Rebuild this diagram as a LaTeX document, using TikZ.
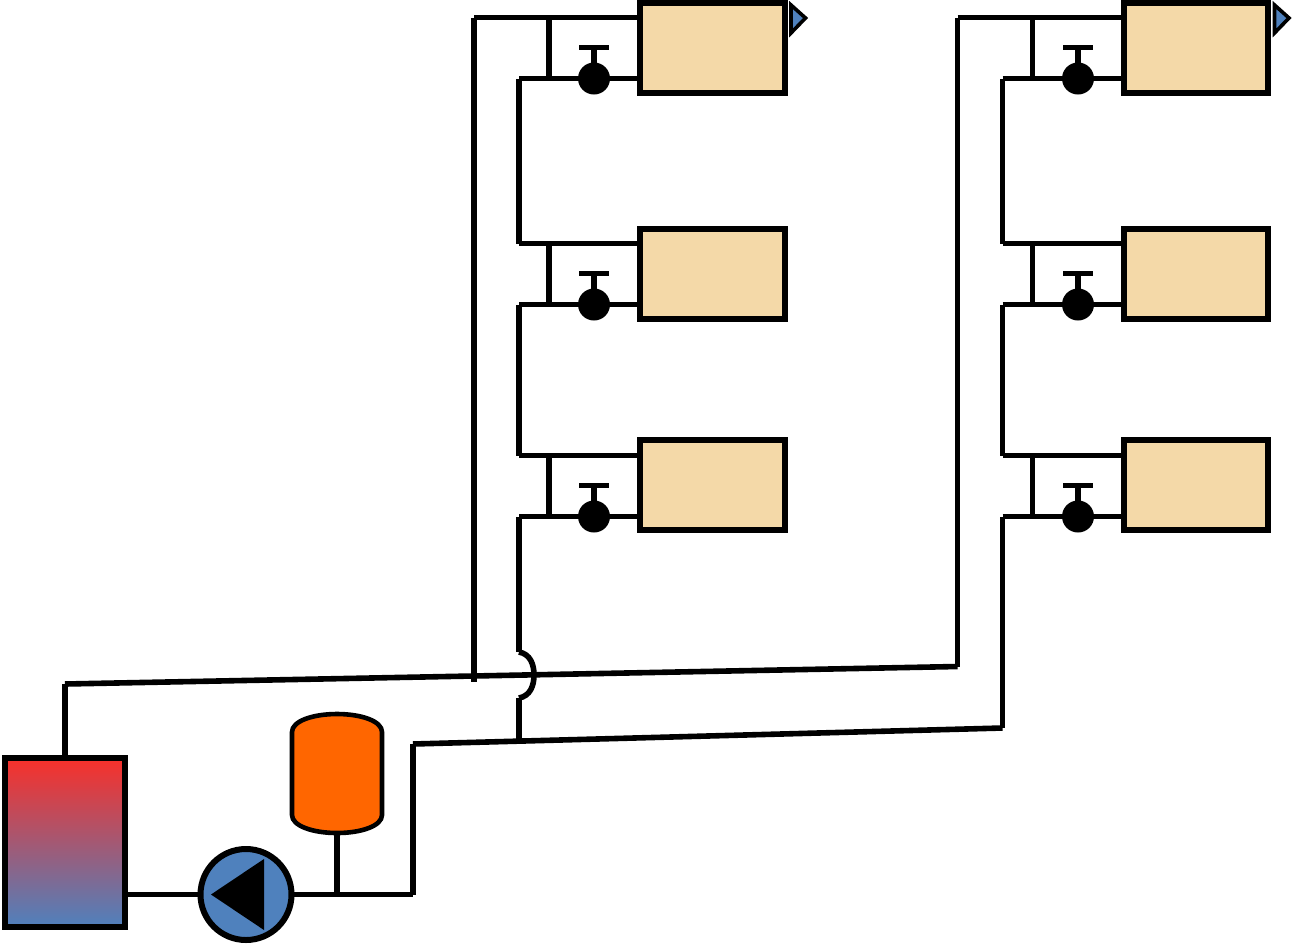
\documentclass[tikz,border=0pt]{standalone}
\usetikzlibrary{calc}
\definecolor{radfill}{HTML}{F4D9A8}
\definecolor{pumpblue}{HTML}{4F81BD}
\definecolor{hotred}{HTML}{F8302A}
\definecolor{vesselorange}{HTML}{FF6600}
\tikzset{
  pipe/.style={line width=5.6pt,line cap=butt,line join=miter},
  radiator/.style={draw,line width=6pt,fill=radfill,minimum width=144.5pt,minimum height=90pt,inner sep=0pt,outer sep=0pt},
  valvebody/.style={circle,fill=black,minimum size=32pt,inner sep=0pt,outer sep=0pt},
  vent/.style={draw,line width=3.6pt,fill=pumpblue,line join=miter},
  boilerbox/.style={draw,line width=6pt,top color=hotred,bottom color=pumpblue,minimum width=120pt,minimum height=169pt,inner sep=0pt,outer sep=0pt},
  pumpbody/.style={draw,circle,line width=6pt,fill=pumpblue,minimum size=91pt,inner sep=0pt,outer sep=0pt},
  vesselbody/.style={draw,line width=4.6pt,fill=vesselorange}
}
\begin{document}
\begin{tikzpicture}[x=1pt,y=-1pt]
\useasboundingbox (0,0) rectangle (1292,943);
\fill[white] (0,0) rectangle (1292,943);

% Risers and mains
\coordinate (flowL) at (474,17.5);
\coordinate (flowLb) at (474,682);
\coordinate (flowR) at (957.5,17.5);
\coordinate (flowRb) at (957.5,666.5);
\coordinate (flowStart) at (65,684);
\coordinate (retStart) at (413,744);
\coordinate (retEnd) at (1002.5,728);
\coordinate (retCorner) at (413,894.5);
\coordinate (vesselFoot) at (337,833);
\coordinate (vesselTee) at (337,894.5);
\coordinate (hopTop) at (519,652);
\coordinate (hopBot) at (519,698);
\coordinate (hopFoot) at (519,740);

% Boiler and pump
\node[boilerbox] (boiler) at (65,842.5) {};
\node[pumpbody] (pump) at (246,894.5) {};
\fill[black] (211,894.5) -- (264,859) -- (264,930) -- cycle;

% Radiator groups: side / radiator x / valve x / tee x / riser x
\foreach \s/\rx/\vx/\tx/\ux in {L/712.5/594/549/519,R/1196/1078/1032.5/1002.5}{
  \foreach \n/\ry/\fy/\by in {1/48/17.5/78.5,2/274/243.5/304.5,3/485/455.5/516.5}{
    \node[radiator] (rad\s\n) at (\rx,\ry) {};
    \node[valvebody] (valve\s\n) at (\vx,\by) {};
    \coordinate (feed\s\n) at (\tx,\fy);
    \coordinate (back\s\n) at (\tx,\by);
    \coordinate (start\s\n) at (\ux,\by);
    \coordinate (inlet\s\n) at (\ux,\fy);
    \draw[pipe] (feed\s\n) -- (back\s\n);
    \draw[pipe] (start\s\n) -- (valve\s\n.west);
    \draw[pipe] (valve\s\n.east) -- (rad\s\n.west |- start\s\n);
    \draw[pipe] (valve\s\n.north) -- ++(0,-15);
    \draw[pipe] ($(valve\s\n.north)+(-15,-15)$) -- ++(30,0);
  }
  \draw[pipe] (inlet\s2) -- (rad\s2.west |- inlet\s2);
  \draw[pipe] (inlet\s3) -- (rad\s3.west |- inlet\s3);
  \draw[pipe] (start\s1) -- (inlet\s2);
  \draw[pipe] (start\s2) -- (inlet\s3);
}

% Flow mains to top radiators
\draw[pipe] (flowL) -- (radL1.west |- flowL);
\draw[pipe] (flowR) -- (radR1.west |- flowR);
\draw[pipe] (flowL) -- (flowLb);
\draw[pipe] (flowR) -- (flowRb);
\draw[pipe] (flowStart) -- (flowRb);
\draw[pipe] (boiler.north -| flowStart) -- (flowStart);

% Return mains
\draw[pipe] (startL3) -- (hopTop);
\draw[pipe] (hopTop) .. controls (530,654) and (534,664) .. (534,675) .. controls (534,686) and (530,696) .. (hopBot);
\draw[pipe] (hopBot) -- (hopFoot);
\draw[pipe] (startR3) -- (retEnd);
\draw[pipe] (retStart) -- (retEnd);
\draw[pipe] (retCorner) -- (retStart);
\draw[pipe] (pump.east) -- (retCorner);
\draw[pipe] (boiler.east |- pump) -- (pump.west);
\draw[pipe] (vesselFoot) -- (vesselTee);

% Expansion vessel
\draw[vesselbody] (292,732) .. controls (292,721) and (313,714) .. (337,714) .. controls (361,714) and (382,721) .. (382,732)
  -- (382,815) .. controls (382,826) and (361,833) .. (337,833) .. controls (313,833) and (292,826) .. (292,815) -- cycle;

% Air vents
\draw[vent] (791,5) -- (805.5,18) -- (791,33) -- cycle;
\draw[vent] (1274.5,5) -- (1289,18) -- (1274.5,33) -- cycle;
\end{tikzpicture}
\end{document}
